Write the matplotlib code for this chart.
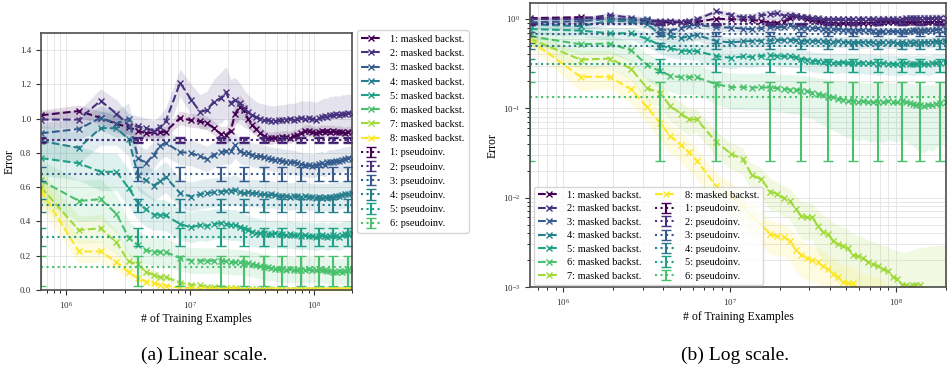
import matplotlib.pyplot as plt
import numpy as np

plt.rcParams['font.family'] = ['Liberation Serif', 'DejaVu Serif']

# number of training examples (millions)
x_m = [0.63, 1.27, 1.9, 2.55, 3.2, 3.8, 4.4, 5.1, 5.7, 6.35,
       8.3, 10.2, 12.0, 13.6, 15.5, 17.6, 19.4, 21.2, 23.0, 25.0,
       27.0, 29.2, 31.5, 34.0, 36.5, 39.0, 42.0, 45.0, 48.0, 51.5,
       55.0, 59.0, 63.5, 68.0, 73.0, 78.0, 84.0, 90.0, 96.0, 102.0,
       109.0, 115.0, 121.0, 127.0, 133.0, 140.0, 148.0, 157.0, 166.0, 175.0,
       185.0, 200.0]

# masked backst. mean error, layers 1..8
s1 = [1.02, 1.045, 1.005, 0.97, 0.95, 0.93, 0.915, 0.92, 0.92, 0.925,
      1.005, 0.99, 0.985, 0.975, 0.945, 0.91, 0.905, 0.93, 1.03, 1.07,
      1.05, 1.0, 0.965, 0.94, 0.915, 0.9, 0.89, 0.885, 0.89, 0.89,
      0.895, 0.895, 0.89, 0.9, 0.905, 0.915, 0.93, 0.93, 0.925, 0.915,
      0.925, 0.93, 0.925, 0.93, 0.925, 0.93, 0.92, 0.925, 0.92, 0.915,
      0.92, 0.92]
s2 = [0.995, 0.995, 1.105, 1.03, 0.96, 0.955, 0.945, 0.93, 0.95, 0.985,
      1.21, 1.11, 1.04, 1.05, 1.10, 1.12, 1.155, 1.09, 1.11, 1.09,
      1.06, 1.04, 1.02, 1.01, 1.0, 0.995, 0.99, 0.985, 0.985, 0.99,
      0.99, 0.995, 1.0, 0.995, 1.0, 1.005, 1.0, 1.005, 1.0, 0.995,
      1.005, 1.01, 1.015, 1.01, 1.02, 1.02, 1.025, 1.02, 1.03, 1.03,
      1.035, 1.03]
s3 = [0.915, 0.94, 1.005, 0.97, 1.0, 0.77, 0.74, 0.79, 0.84, 0.86,
      0.805, 0.80, 0.78, 0.765, 0.79, 0.805, 0.81, 0.81, 0.845, 0.81,
      0.80, 0.80, 0.79, 0.785, 0.78, 0.775, 0.77, 0.765, 0.76, 0.76,
      0.755, 0.75, 0.75, 0.745, 0.74, 0.735, 0.73, 0.73, 0.725, 0.73,
      0.735, 0.74, 0.73, 0.745, 0.75, 0.75, 0.755, 0.755, 0.76, 0.765,
      0.77, 0.765]
s4 = [0.87, 0.83, 0.945, 0.945, 0.88, 0.67, 0.64, 0.61, 0.635, 0.66,
      0.565, 0.545, 0.56, 0.565, 0.57, 0.575, 0.58, 0.58, 0.585, 0.575,
      0.565, 0.57, 0.565, 0.565, 0.56, 0.56, 0.555, 0.56, 0.555, 0.55,
      0.55, 0.55, 0.545, 0.55, 0.55, 0.545, 0.55, 0.545, 0.545, 0.54,
      0.545, 0.54, 0.545, 0.54, 0.545, 0.545, 0.55, 0.55, 0.555, 0.56,
      0.56, 0.565]
s5 = [0.77, 0.74, 0.69, 0.69, 0.595, 0.51, 0.47, 0.44, 0.44, 0.435,
      0.385, 0.365, 0.38, 0.375, 0.385, 0.39, 0.385, 0.38, 0.38, 0.37,
      0.36, 0.35, 0.34, 0.335, 0.33, 0.33, 0.325, 0.325, 0.33, 0.325,
      0.325, 0.32, 0.325, 0.32, 0.32, 0.315, 0.32, 0.315, 0.315, 0.31,
      0.315, 0.32, 0.315, 0.31, 0.315, 0.32, 0.315, 0.31, 0.32, 0.325,
      0.325, 0.33]
s6 = [0.64, 0.52, 0.53, 0.445, 0.305, 0.26, 0.232, 0.222, 0.224, 0.222,
      0.186, 0.172, 0.172, 0.17, 0.172, 0.17, 0.168, 0.165, 0.162, 0.162,
      0.158, 0.155, 0.15, 0.145, 0.14, 0.135, 0.132, 0.128, 0.125, 0.122,
      0.12, 0.118, 0.12, 0.118, 0.117, 0.118, 0.116, 0.12, 0.118, 0.117,
      0.12, 0.118, 0.115, 0.113, 0.11, 0.108, 0.106, 0.11, 0.108, 0.112,
      0.115, 0.118]
s7 = [0.60, 0.35, 0.36, 0.278, 0.167, 0.149, 0.106, 0.087, 0.075, 0.075,
      0.042, 0.031, 0.027, 0.018, 0.016, 0.0117, 0.011, 0.0098, 0.0092, 0.0075,
      0.0062, 0.006, 0.006, 0.0048, 0.0041, 0.0039, 0.0033, 0.003, 0.0029, 0.0027,
      0.0023, 0.0022, 0.0021, 0.0019, 0.0018, 0.0017, 0.0016, 0.0015, 0.0013, 0.00124,
      0.00106, 0.00104, 0.00102, 0.00104, 0.00106, 0.00104, 0.00095, 0.0009, 0.00088, 0.00085,
      0.0008, 0.00078]
s8 = [0.58, 0.225, 0.225, 0.163, 0.103, 0.069, 0.049, 0.039, 0.032, 0.026,
      0.0135, 0.0105, 0.0082, 0.0062, 0.005, 0.0039, 0.0037, 0.0036, 0.0033, 0.0026,
      0.0023, 0.0021, 0.002, 0.0019, 0.0017, 0.0016, 0.0014, 0.0013, 0.00115, 0.0011,
      0.0011, 0.00095, 0.0009, 0.00085, 0.0008, 0.00075, 0.0007, 0.00065, 0.0006, 0.00058,
      0.00055, 0.00052, 0.0005, 0.00048, 0.00046, 0.00044, 0.00042, 0.0004, 0.00038, 0.00036,
      0.00035, 0.00034]

# spread (std) of masked backst. runs
e1 = [0.03, 0.035, 0.04, 0.05, 0.04, 0.03, 0.03, 0.03, 0.03, 0.03,
      0.04, 0.04, 0.04, 0.04, 0.04, 0.045, 0.05, 0.06, 0.07, 0.07,
      0.06, 0.05, 0.045, 0.04, 0.04, 0.035, 0.035, 0.035, 0.035, 0.035,
      0.035, 0.035, 0.035, 0.035, 0.035, 0.035, 0.035, 0.035, 0.035, 0.035,
      0.035, 0.035, 0.035, 0.035, 0.035, 0.035, 0.035, 0.035, 0.035, 0.035,
      0.035, 0.035]
e2 = [0.05, 0.05, 0.07, 0.08, 0.07, 0.06, 0.06, 0.06, 0.07, 0.08,
      0.08, 0.09, 0.10, 0.11, 0.13, 0.15, 0.15, 0.14, 0.13, 0.12,
      0.11, 0.10, 0.10, 0.09, 0.09, 0.09, 0.09, 0.09, 0.09, 0.09,
      0.09, 0.09, 0.09, 0.095, 0.095, 0.10, 0.10, 0.10, 0.10, 0.10,
      0.10, 0.105, 0.105, 0.11, 0.11, 0.11, 0.11, 0.11, 0.11, 0.11,
      0.11, 0.11]
e3 = [0.06, 0.06, 0.07, 0.08, 0.09, 0.08, 0.08, 0.08, 0.08, 0.08,
      0.075, 0.075, 0.075, 0.075, 0.075, 0.075, 0.075, 0.075, 0.075, 0.07,
      0.07, 0.07, 0.07, 0.07, 0.07, 0.07, 0.07, 0.07, 0.07, 0.07,
      0.07, 0.07, 0.07, 0.07, 0.07, 0.07, 0.07, 0.07, 0.07, 0.07,
      0.07, 0.07, 0.07, 0.07, 0.07, 0.07, 0.07, 0.07, 0.07, 0.07,
      0.07, 0.07]
e4 = [0.09, 0.09, 0.10, 0.10, 0.10, 0.09, 0.09, 0.09, 0.09, 0.09,
      0.085, 0.085, 0.085, 0.085, 0.085, 0.085, 0.085, 0.085, 0.085, 0.085,
      0.08, 0.08, 0.08, 0.08, 0.08, 0.08, 0.08, 0.08, 0.08, 0.08,
      0.08, 0.08, 0.08, 0.08, 0.08, 0.08, 0.08, 0.08, 0.08, 0.08,
      0.08, 0.08, 0.08, 0.08, 0.08, 0.08, 0.08, 0.08, 0.08, 0.08,
      0.08, 0.08]
e5 = [0.10, 0.10, 0.11, 0.11, 0.11, 0.10, 0.10, 0.09, 0.09, 0.09,
      0.09, 0.09, 0.09, 0.09, 0.09, 0.09, 0.09, 0.09, 0.09, 0.085,
      0.085, 0.085, 0.085, 0.085, 0.085, 0.08, 0.08, 0.08, 0.08, 0.08,
      0.08, 0.08, 0.08, 0.08, 0.08, 0.08, 0.08, 0.08, 0.08, 0.08,
      0.08, 0.08, 0.08, 0.08, 0.08, 0.08, 0.08, 0.08, 0.08, 0.08,
      0.08, 0.08]
e6 = [0.12, 0.12, 0.12, 0.11, 0.10, 0.09, 0.08, 0.08, 0.08, 0.08,
      0.075, 0.075, 0.075, 0.075, 0.075, 0.075, 0.075, 0.075, 0.075, 0.075,
      0.075, 0.075, 0.075, 0.075, 0.075, 0.075, 0.075, 0.075, 0.075, 0.075,
      0.075, 0.075, 0.075, 0.075, 0.075, 0.075, 0.075, 0.075, 0.075, 0.075,
      0.075, 0.075, 0.075, 0.075, 0.075, 0.075, 0.075, 0.075, 0.075, 0.075,
      0.075, 0.075]
e7 = [0.10, 0.08, 0.08, 0.07, 0.05, 0.045, 0.035, 0.03, 0.025, 0.022,
      0.013, 0.01, 0.009, 0.006, 0.0055, 0.0045, 0.004, 0.0037, 0.0035, 0.003,
      0.0028, 0.0027, 0.0026, 0.0024, 0.0022, 0.0021, 0.002, 0.0019, 0.0018, 0.0017,
      0.0016, 0.0015, 0.0015, 0.0014, 0.0014, 0.0013, 0.0013, 0.0013, 0.0013, 0.0013,
      0.0014, 0.0014, 0.0015, 0.0015, 0.0016, 0.0017, 0.0018, 0.0019, 0.002, 0.002,
      0.0021, 0.0021]
e8 = [0.10, 0.07, 0.06, 0.05, 0.035, 0.025, 0.018, 0.014, 0.012, 0.01,
      0.005, 0.004, 0.003, 0.0025, 0.002, 0.0016, 0.0015, 0.0014, 0.0013, 0.0011,
      0.001, 0.0009, 0.0009, 0.0008, 0.0008, 0.0007, 0.0007, 0.0006, 0.0006, 0.0006,
      0.0006, 0.0005, 0.0005, 0.0005, 0.0005, 0.0005, 0.0005, 0.0004, 0.0004, 0.0004,
      0.0004, 0.0004, 0.0004, 0.0004, 0.0004, 0.0004, 0.0004, 0.0003, 0.0003, 0.0003,
      0.0003, 0.0003]

# pseudoinverse baseline, layers 1..6 (mean, lower err, upper err)
pinv_mean = [0.875, 0.875, 0.677, 0.494, 0.312, 0.133]
pinv_lo = [0.012, 0.017, 0.04, 0.037, 0.055, 0.107]
pinv_hi = [0.012, 0.017, 0.04, 0.037, 0.048, 0.065]

masked = [s1, s2, s3, s4, s5, s6, s7, s8]
spread = [e1, e2, e3, e4, e5, e6, e7, e8]
colors = plt.cm.viridis(np.linspace(0, 1, 8))


def draw(ax, log=False):
    x = np.array(x_m) * 1e6
    for i, (m, s) in enumerate(zip(masked, spread)):
        m = np.array(m)
        s = np.array(s)
        lower = m - s
        if log:
            lower = np.clip(lower, 1e-5, None)
        ax.fill_between(x, lower, m + s, color=colors[i], alpha=0.14, lw=0)
        ax.plot(x, m, '--', marker='x', color=colors[i], ms=5, mew=1.0,
                lw=1.5, label=f'{i + 1}: masked backst.')
    for j in range(6):
        y = np.full(len(x), pinv_mean[j])
        yerr = [np.full(len(x), pinv_lo[j]), np.full(len(x), pinv_hi[j])]
        ax.errorbar(x, y, yerr=yerr, fmt=':', color=colors[j], lw=1.5,
                    errorevery=5, capsize=3.5, label=f'{j + 1}: pseudoinv.')

    ax.set_xscale('log')
    ax.set_xlim(x[0], x[-1])
    if log:
        ax.set_yscale('log')
        ax.set_ylim(1e-3, 1.5)
    else:
        ax.set_ylim(0, 1.5)
    ax.grid(True, which='both', color='0.9', lw=0.7)
    ax.set_axisbelow(True)
    for sp in ax.spines.values():
        sp.set_color('0.3')
        sp.set_linewidth(1.2)
    ax.tick_params(labelsize=6.5, colors='0.2')
    ax.set_xlabel('# of Training Examples', fontsize=8.5, labelpad=2)
    ax.set_ylabel('Error', fontsize=8.5, labelpad=3)


fig = plt.figure(figsize=(9.48, 3.74), dpi=100)

ax1 = fig.add_axes([0.0432, 0.2246, 0.328, 0.687])
draw(ax1, log=False)
ax1.legend(loc='upper left', bbox_to_anchor=(1.015, 1.01), borderaxespad=0,
           fontsize=7.5, labelspacing=0.47, handlelength=2.0, edgecolor='0.8')

ax2 = fig.add_axes([0.559, 0.2326, 0.4388, 0.759])
draw(ax2, log=True)
ax2.legend(loc='lower left', bbox_to_anchor=(0.005, 0.0), borderaxespad=0.2,
           ncol=2, fontsize=7.5, labelspacing=0.4, handlelength=2.0,
           columnspacing=1.3, edgecolor='0.8')

fig.text(0.215, 0.05, '(a) Linear scale.', ha='center', va='center', fontsize=14)
fig.text(0.775, 0.05, '(b) Log scale.', ha='center', va='center', fontsize=14)

fig.savefig('out.png', dpi=100)
